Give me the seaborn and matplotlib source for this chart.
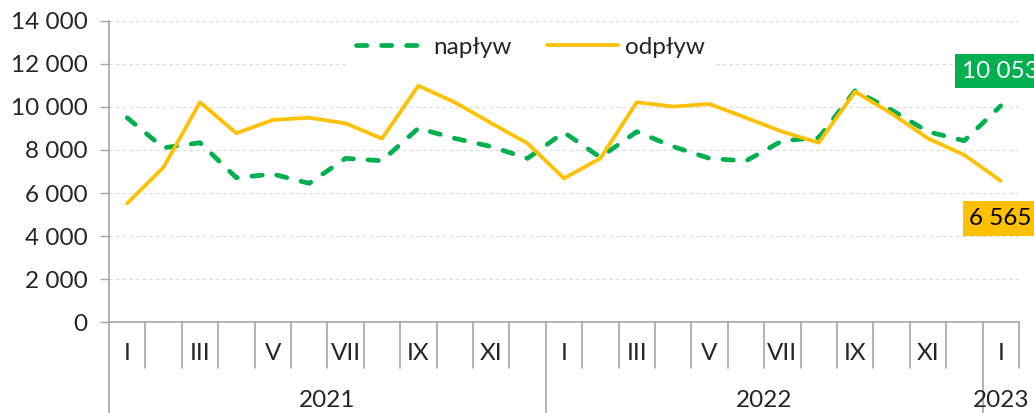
import matplotlib
matplotlib.use("Agg")
import matplotlib.pyplot as plt
import matplotlib.ticker as mticker
import numpy as np
import pandas as pd
import seaborn as sns

# data (Jan 2021 .. Jan 2023)
months = ["I", "II", "III", "IV", "V", "VI", "VII", "VIII", "IX", "X", "XI", "XII"] * 2 + ["I"]
years = ["2021"] * 12 + ["2022"] * 12 + ["2023"]
naplyw = [9500, 8100, 8340, 6710, 6880, 6450, 7610, 7500, 9010, 8540, 8160, 7610,
          8820, 7660, 8850, 8160, 7610, 7490, 8430, 8570, 10760, 9860, 8850, 8430,
          10053]
odplyw = [5520, 7200, 10220, 8780, 9400, 9500, 9240, 8530, 10990, 10220, 9250, 8310,
          6680, 7610, 10220, 10020, 10140, 9500, 8850, 8340, 10710, 9700, 8540, 7770,
          6565]

green = "#00B050"
yellow = "#FFC000"
grey = "#A6A6A6"
fs = 17.5

df = pd.DataFrame({"idx": range(len(months)), "miesiac": months, "rok": years,
                   "napływ": naplyw, "odpływ": odplyw})

sns.set_style("white")
plt.rcParams["font.family"] = ["Lato", "DejaVu Sans"]
plt.rcParams["font.size"] = fs

fig = plt.figure(figsize=(10.34, 4.13), dpi=100)
ax = fig.add_axes([0.1054, 0.2203, 0.88, 0.7289])

sns.lineplot(data=df, x="idx", y="napływ", ax=ax, color=green, linewidth=3.4,
             linestyle=(0, (2.2, 3.1)), dash_capstyle="round", label="napływ", zorder=3)
sns.lineplot(data=df, x="idx", y="odpływ", ax=ax, color=yellow, linewidth=2.7,
             label="odpływ", zorder=4)

ax.set_xlim(-0.5, len(months) - 0.5)
ax.set_ylim(0, 14000)
ax.set_yticks(range(0, 14001, 2000))
ax.yaxis.set_major_formatter(mticker.FuncFormatter(lambda v, p: f"{int(v):,}".replace(",", " ")))
ax.tick_params(axis="y", length=6.5, color=grey, width=1, labelsize=fs, pad=9, left=True)
ax.set_xticks([])
ax.set_xlabel("")
ax.set_ylabel("")
ax.grid(axis="y", color="#D9D9D9", linestyle=(0, (3, 3)), linewidth=0.8)
ax.set_axisbelow(True)
for s in ["top", "right"]:
    ax.spines[s].set_visible(False)
for s in ["left", "bottom"]:
    ax.spines[s].set_color(grey)
    ax.spines[s].set_linewidth(1.2)

# category separators and labels
trans = matplotlib.transforms.blended_transform_factory(ax.transData, ax.transAxes)
for i in range(len(months) + 1):
    new_year = i == 0 or (i < len(years) and years[i] != years[i - 1])
    low = -0.31 if new_year else -0.153
    ax.plot([i - 0.5, i - 0.5], [0, low], color=grey, lw=1.2, transform=trans, clip_on=False)
for i, m in enumerate(months):
    if m in ["I", "III", "V", "VII", "IX", "XI"]:
        ax.text(i, -0.106, m, transform=trans, ha="center", va="center", fontsize=fs)
for y in ["2021", "2022", "2023"]:
    pos = df.loc[df["rok"] == y, "idx"]
    ax.text(pos.mean(), -0.262, y, transform=trans, ha="center", va="center", fontsize=fs)

# last value labels
last = df.iloc[-1]
ax.annotate(f"{last['napływ']:,}".replace(",", " "), (last["idx"], last["napływ"]),
            xytext=(0, 25), textcoords="offset points", ha="center", va="center",
            color="white", fontsize=fs, annotation_clip=False,
            bbox=dict(boxstyle="square,pad=0.28", fc=green, ec="none"))
ax.annotate(f"{last['odpływ']:,}".replace(",", " "), (last["idx"], last["odpływ"]),
            xytext=(0, -27), textcoords="offset points", ha="center", va="center",
            color="black", fontsize=fs, annotation_clip=False,
            bbox=dict(boxstyle="square,pad=0.28", fc=yellow, ec="none"))

leg = ax.legend(loc="center", bbox_to_anchor=(0.463, 0.912), ncol=2, frameon=True,
                facecolor="white", edgecolor="white", framealpha=1, fontsize=fs,
                handlelength=2.9, handletextpad=0.3, columnspacing=1.45,
                borderpad=0.4, fancybox=False)
leg.set_zorder(5)

fig.savefig("out.png", dpi=100)
